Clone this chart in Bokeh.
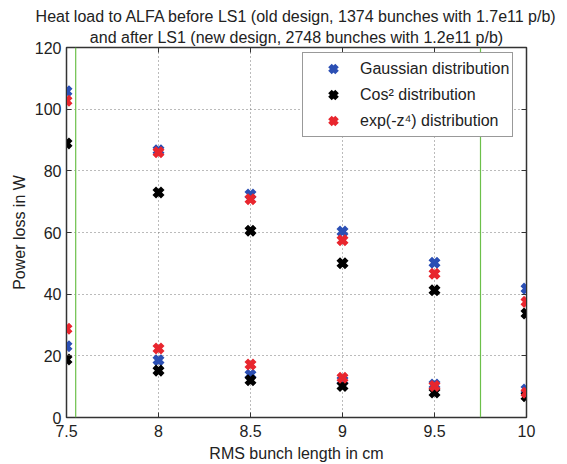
from bokeh.plotting import figure
from bokeh.models import (ColumnDataSource, Span, Legend, LegendItem, LinearAxis,
                          FixedTicker, Title, Range1d)
from bokeh.embed import file_html
from bokeh.resources import INLINE

# ---- data ----
bunch_length = [7.5, 8.0, 8.5, 9.0, 9.5, 10.0]
gauss_high = [105.8, 86.7, 72.3, 60.3, 50.2, 41.8]
cos2_high = [88.9, 73.0, 60.6, 50.0, 41.3, 33.7]
expz4_high = [102.7, 86.0, 70.8, 57.5, 46.6, 37.5]
gauss_low = [23.1, 18.6, 13.9, 12.0, 10.7, 9.1]
cos2_low = [18.8, 15.2, 12.1, 10.2, 8.1, 6.9]
expz4_low = [28.8, 22.4, 17.2, 12.9, 10.2, 8.0]
green_limits = [7.55, 9.75]
x_ticks = [7.5, 8.0, 8.5, 9.0, 9.5, 10.0]
y_ticks = [0, 20, 40, 60, 80, 100, 120]
labels = ["Gaussian distribution", "Cos\u00b2 distribution", "exp(-z\u2074) distribution"]
colors = ["#2b4fb4", "#000000", "#e8262e"]

FONT = "Liberation Sans"
FS = "16px"

p = figure(frame_width=460, frame_height=370, output_backend="svg", toolbar_location=None,
           x_range=Range1d(7.5, 10.0), y_range=Range1d(0, 120),
           min_border_left=66, min_border_right=38, min_border_top=47,
           min_border_bottom=44)
p.background_fill_color = "white"
p.border_fill_color = "white"
p.outline_line_color = "#333333"
p.outline_line_width = 1.5

for ax, ticks in ((p.xaxis[0], x_ticks), (p.yaxis[0], y_ticks)):
    ax.ticker = FixedTicker(ticks=ticks)
    ax.major_tick_in = 5
    ax.major_tick_out = 0
    ax.minor_tick_in = 0
    ax.minor_tick_out = 0
    ax.axis_line_color = "#333333"
    ax.major_tick_line_color = "#333333"
    ax.major_label_text_font = FONT
    ax.major_label_text_font_size = FS
    ax.major_label_text_color = "#222222"
    ax.axis_label_text_font = FONT
    ax.axis_label_text_font_size = FS
    ax.axis_label_text_font_style = "normal"
    ax.axis_label_text_color = "#222222"

p.xaxis[0].axis_label = "RMS bunch length in cm"
p.yaxis[0].axis_label = "Power loss in W"
p.xaxis[0].major_label_standoff = 7
p.yaxis[0].major_label_standoff = 5
p.xaxis[0].axis_label_standoff = 5
p.yaxis[0].axis_label_standoff = 4

blank_x = {t: "" for t in x_ticks}
blank_y = {t: "" for t in y_ticks}
top = LinearAxis(ticker=FixedTicker(ticks=x_ticks), major_tick_in=5, major_tick_out=0,
                 minor_tick_in=0, minor_tick_out=0, major_label_overrides=blank_x,
                 major_label_standoff=0,
                 axis_line_color="#333333", major_tick_line_color="#333333")
right = LinearAxis(ticker=FixedTicker(ticks=y_ticks), major_tick_in=5, major_tick_out=0,
                   minor_tick_in=0, minor_tick_out=0, major_label_overrides=blank_y,
                   major_label_standoff=0,
                   axis_line_color="#333333", major_tick_line_color="#333333")
p.add_layout(right, "right")

p.xgrid.ticker = FixedTicker(ticks=x_ticks)
p.ygrid.ticker = FixedTicker(ticks=y_ticks)
for g in (p.xgrid[0], p.ygrid[0]):
    g.grid_line_color = "#777777"
    g.grid_line_dash = "1 3"
    g.grid_line_width = 1

for xv in green_limits:
    p.add_layout(Span(location=xv, dimension="height", line_color="#6cc04a", line_width=1.2))

series = [(gauss_high, gauss_low), (cos2_high, cos2_low), (expz4_high, expz4_low)]
renderers = []
for (hi, lo), col in zip(series, colors):
    src = ColumnDataSource(dict(x=bunch_length + bunch_length, y=hi + lo))
    r = p.scatter("x", "y", source=src, marker="x", size=12, line_width=5,
                  line_color=col)
    renderers.append(r)

legend = Legend(items=[LegendItem(label=l, renderers=[r]) for l, r in zip(labels, renderers)],
                location=(236, 280), label_text_font=FONT, label_text_font_size=FS,
                label_text_color="#222222", border_line_color="#333333",
                border_line_width=1.2, background_fill_alpha=1.0, padding=3,
                spacing=1, glyph_width=54, glyph_height=25, label_height=25,
                label_standoff=0, margin=0)
p.add_layout(legend)

p.add_layout(top, "above")
p.add_layout(Title(text="and after LS1 (new design, 2748 bunches with 1.2e11 p/b)",
                   align="center", offset=-5, text_font=FONT, text_font_size=FS,
                   text_font_style="normal", text_color="#222222", standoff=4), "above")
p.add_layout(Title(text="Heat load to ALFA before LS1 (old design, 1374 bunches with 1.7e11 p/b)",
                   align="center", offset=-5, text_font=FONT, text_font_size=FS,
                   text_font_style="normal", text_color="#222222", standoff=0), "above")

open("out.html", "w").write(file_html(p, INLINE))
